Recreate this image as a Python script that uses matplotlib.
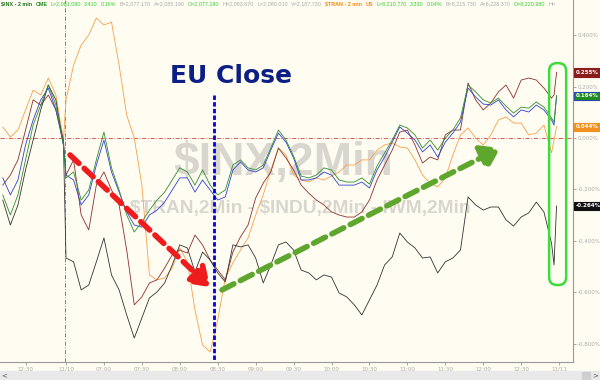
import matplotlib.pyplot as plt
from matplotlib.patches import FancyBboxPatch, Rectangle
from matplotlib.transforms import IdentityTransform, blended_transform_factory

# time axis: minutes from the 11/10 open (06:30); previous session ends at -2
prev_minutes = [-50, -44, -38, -32, -26, -20, -14, -8, -2]
day_minutes = list(range(0, 385, 6)) + [386, 388]
minutes = prev_minutes + day_minutes

# % change series
tran_pct = [0.043, 0.004, 0.031, 0.109, 0.186, 0.167, 0.233, 0.167, -0.008,
            0.148, 0.283, 0.361, 0.400, 0.466, 0.439, 0.450, 0.283, 0.089, 0.000,
            -0.183, -0.532, -0.551, -0.544, -0.505, -0.427, -0.481, -0.668, -0.804, -0.831,
            -0.707, -0.544, -0.485, -0.435, -0.388, -0.299, -0.221, -0.124, -0.039, -0.066,
            -0.144, -0.163, -0.171, -0.155, -0.163, -0.148, -0.132, -0.105, -0.105, -0.085,
            -0.085, -0.047, -0.027, -0.019, -0.035, -0.039, -0.085, -0.144, -0.175, -0.190,
            -0.155, -0.066, 0.012, 0.039, 0.000, -0.027, 0.012, 0.070, 0.082, 0.058,
            0.058, 0.012, 0.019, 0.050, -0.058, -0.008, 0.044]
iwm_pct = [-0.183, -0.144, -0.085, 0.031, 0.148, 0.128, 0.167, 0.109, -0.008,
           -0.144, -0.085, -0.299, -0.357, -0.183, -0.132, -0.202, -0.260, -0.435, -0.648,
           -0.617, -0.563, -0.551, -0.505, -0.454, -0.435, -0.447, -0.377, -0.415, -0.474,
           -0.513, -0.551, -0.443, -0.384, -0.338, -0.233, -0.175, -0.132, -0.039, -0.078,
           -0.124, -0.183, -0.214, -0.241, -0.260, -0.287, -0.299, -0.307, -0.307, -0.287,
           -0.241, -0.163, -0.105, -0.047, 0.023, 0.031, -0.027, -0.097, -0.074, -0.085,
           0.012, 0.031, 0.031, 0.214, 0.148, 0.109, 0.136, 0.179, 0.206, 0.155,
           0.225, 0.233, 0.225, 0.194, 0.155, 0.167, 0.255]
indu_pct = [-0.155, -0.221, -0.163, -0.027, 0.070, 0.148, 0.194, 0.109, -0.027,
            -0.144, -0.163, -0.260, -0.221, -0.105, -0.008, -0.132, -0.210, -0.287, -0.338,
            -0.346, -0.299, -0.280, -0.249, -0.202, -0.155, -0.155, -0.210, -0.163, -0.202,
            -0.241, -0.229, -0.124, -0.093, -0.124, -0.132, -0.116, -0.047, 0.019, -0.016,
            -0.078, -0.163, -0.163, -0.155, -0.132, -0.144, -0.183, -0.183, -0.183, -0.171,
            -0.194, -0.124, -0.074, -0.016, 0.043, 0.019, -0.008, -0.054, -0.027, -0.074,
            -0.016, 0.019, 0.062, 0.194, 0.159, 0.132, 0.128, 0.148, 0.109, 0.082,
            0.109, 0.101, 0.128, 0.109, 0.070, 0.050, 0.164]
inx_pct = [-0.221, -0.299, -0.221, -0.085, 0.050, 0.128, 0.206, 0.128, -0.027,
           -0.155, -0.132, -0.241, -0.202, -0.085, 0.023, -0.116, -0.202, -0.299, -0.365,
           -0.326, -0.280, -0.241, -0.210, -0.163, -0.116, -0.132, -0.183, -0.124, -0.183,
           -0.221, -0.202, -0.105, -0.085, -0.116, -0.124, -0.105, -0.039, 0.031, -0.008,
           -0.070, -0.148, -0.155, -0.144, -0.116, -0.124, -0.163, -0.171, -0.171, -0.155,
           -0.179, -0.109, -0.058, -0.008, 0.050, 0.039, 0.012, -0.039, -0.008, -0.047,
           0.000, 0.031, 0.078, 0.206, 0.179, 0.148, 0.136, 0.155, 0.124, 0.097,
           0.120, 0.116, 0.140, 0.120, 0.078, 0.062, 0.164]
other_pct = [-0.241, -0.338, -0.260, -0.124, -0.008, 0.109, 0.206, 0.148, -0.027,
             -0.466, -0.481, -0.590, -0.571, -0.481, -0.388, -0.532, -0.590, -0.687, -0.777,
             -0.699, -0.621, -0.598, -0.563, -0.493, -0.415, -0.427, -0.520, -0.443, -0.474,
             -0.524, -0.559, -0.415, -0.423, -0.415, -0.466, -0.563, -0.493, -0.415, -0.404,
             -0.435, -0.513, -0.524, -0.551, -0.532, -0.540, -0.602, -0.617, -0.648, -0.687,
             -0.629, -0.571, -0.493, -0.462, -0.369, -0.404, -0.427, -0.466, -0.462, -0.524,
             -0.481, -0.466, -0.435, -0.229, -0.260, -0.280, -0.268, -0.268, -0.318, -0.342,
             -0.307, -0.291, -0.249, -0.287, -0.408, -0.493, -0.264]

x_ticks = [-32, 0, 30, 60, 90, 120, 150, 180, 210, 240, 270, 300, 330, 360, 390]
x_labels = ["12:30", "11/10", "07:00", "07:30", "08:00", "08:30", "09:00", "09:30",
            "10:00", "10:30", "11:00", "11:30", "12:00", "12:30", "11/11"]
y_ticks = [0.4, 0.2, 0.0, -0.2, -0.4, -0.6, -0.8]
y_labels = ["0.400%", "0.200%", "0.000%", "-0.200%", "-0.400%", "-0.600%", "-0.800%"]

bg = "#fffcf1"
fig = plt.figure(figsize=(6, 3.8), dpi=100)
fig.patch.set_facecolor(bg)
ax = fig.add_axes([0, 18 / 380, 573 / 600, 362 / 380])
ax.set_facecolor(bg)
ax.set_xlim(-52.2, 401)
ax.set_ylim(-0.870, 0.536)

# watermark
ax.text(172, -0.097, "\\$INX,2Min", fontsize=33, fontweight="bold", color="#d9d6cf",
        family="Liberation Sans", ha="center", va="center", zorder=0)
ax.text(185, -0.272, "\\$TRAN,2Min - \\$INDU,2Min - IWM,2Min", fontsize=13.8, fontweight="bold",
        color="#d9d6cf", family="Liberation Sans", ha="center", va="center", zorder=0)

ax.axhline(0, color="#cc4444", lw=0.6, ls=(0, (5, 2, 1, 2)), zorder=1)
ax.axvline(-1, color="#cc4444", lw=0.6, ls=(0, (5, 2, 1, 2)), zorder=1)

ax.plot(minutes, tran_pct, color="#f5a04c", lw=0.6, zorder=2)
ax.plot(minutes, iwm_pct, color="#8e3030", lw=0.6, zorder=3)
ax.plot(minutes, other_pct, color="#333333", lw=0.6, zorder=3)
ax.plot(minutes, indu_pct, color="#3340d0", lw=0.6, zorder=4)
ax.plot(minutes, inx_pct, color="#2f8f2f", lw=0.6, zorder=5)

# EU close marker
ax.plot([117, 117], [0.167, -0.862], color="#0000ee", lw=2, ls=(0, (1.6, 0.8)), zorder=6)
ax.text(130.5, 0.241, "EU Close", fontsize=18, fontweight="bold", color="#0c1f85",
        ha="center", va="center", zorder=6)

# trend arrows
ax.annotate("", xy=(114, -0.579), xytext=(3.2, -0.066), zorder=7,
            arrowprops=dict(arrowstyle="-|>,head_length=1.1,head_width=0.75", lw=4,
                            ls=(0, (2.2, 1.3)), color="#ee1c1c", shrinkA=0, shrinkB=0))
ax.annotate("", xy=(343.4, -0.039), xytext=(123.4, -0.590), zorder=7,
            arrowprops=dict(arrowstyle="-|>,head_length=1.1,head_width=0.75", lw=4,
                            ls=(0, (2.4, 1.3)), color="#5fa62e", shrinkA=0, shrinkB=0))

# axes styling
for s in ["left", "top"]:
    ax.spines[s].set_visible(False)
for s in ["right", "bottom"]:
    ax.spines[s].set_color("#999999")
    ax.spines[s].set_linewidth(0.8)
ax.yaxis.tick_right()
ax.set_yticks(y_ticks)
ax.set_yticklabels(y_labels)
ax.set_xticks(x_ticks)
ax.set_xticklabels(x_labels)
ax.tick_params(axis="both", labelsize=4, labelcolor="#aaaaaa", color="#999999",
               length=2, width=0.6, pad=1.5)

# last-value boxes
trans = blended_transform_factory(ax.transAxes, ax.transData)
for val, fc, ec in [(iwm_pct[-1], "#8b1c1c", "#8b1c1c"), (inx_pct[-1], "#1e8c1e", "#2b45b0"),
                    (tran_pct[-1], "#f0901e", "#f0901e"), (other_pct[-1], "#111111", "#111111")]:
    ax.text(1.004, val, "%.3f%%" % val, transform=trans, fontsize=4, color="white",
            fontweight="bold", ha="left", va="center", clip_on=False, zorder=8,
            bbox=dict(boxstyle="square,pad=0.3", fc=fc, ec=ec, lw=0.8))

# highlight box around the close
x0, y0 = ax.transData.transform((382.1, -0.571))
x1, y1 = ax.transData.transform((395.6, 0.291))
fig.add_artist(FancyBboxPatch((x0, y0), x1 - x0, y1 - y0, boxstyle="round,pad=0,rounding_size=8",
                              transform=IdentityTransform(), fill=False, ec="#3ddc3d", lw=1.8))

# header line, laid out left to right
header = [("\\$INX - 2 min", "#1f6e1f", "bold"), ("CME", "#1f8a1f", "bold"),
          ("L=2,081.090", "#33cc33", "normal"), ("3.410", "#33cc33", "normal"),
          ("0.16%", "#33cc33", "normal"), ("B=2,077.170", "#aaaaaa", "normal"),
          ("A=2,085.190", "#aaaaaa", "normal"), ("O=2,077.190", "#33cc33", "normal"),
          ("H=2,083.670", "#aaaaaa", "normal"), ("L=2,080.010", "#aaaaaa", "normal"),
          ("V=2,187,730", "#aaaaaa", "normal"),
          ("\\$TRAN - 2 min", "#f08c1a", "bold"), ("US", "#f08c1a", "bold"),
          ("L=8,210.770", "#33cc33", "normal"), ("3.330", "#33cc33", "normal"),
          ("0.04%", "#33cc33", "normal"), ("B=8,215.730", "#aaaaaa", "normal"),
          ("A=8,228.370", "#aaaaaa", "normal"), ("O=8,220.980", "#33cc33", "normal"),
          ("H=", "#aaaaaa", "normal")]
renderer = fig.canvas.get_renderer()
px = 1.0
for txt, col, w in header:
    t = fig.text(px / 600, 1 - 4 / 380, txt, fontsize=3.9, color=col, fontweight=w,
                 family="Liberation Sans", ha="left", va="center")
    px = t.get_window_extent(renderer).x1 + 3.2

# bottom scroll bar
fig.add_artist(Rectangle((0, 0), 1, 9 / 380, transform=fig.transFigure, color="#e9e9e9"))
fig.add_artist(Rectangle((582 / 600, 1 / 380), 8 / 600, 7 / 380, transform=fig.transFigure,
                         color="#cfcfcf"))
fig.text(595 / 600, 4.5 / 380, ">", fontsize=5, color="#555555", ha="center", va="center")
fig.text(4 / 600, 4.5 / 380, "<", fontsize=5, color="#555555", ha="center", va="center")

fig.savefig("out.png", dpi=100, facecolor=bg)
